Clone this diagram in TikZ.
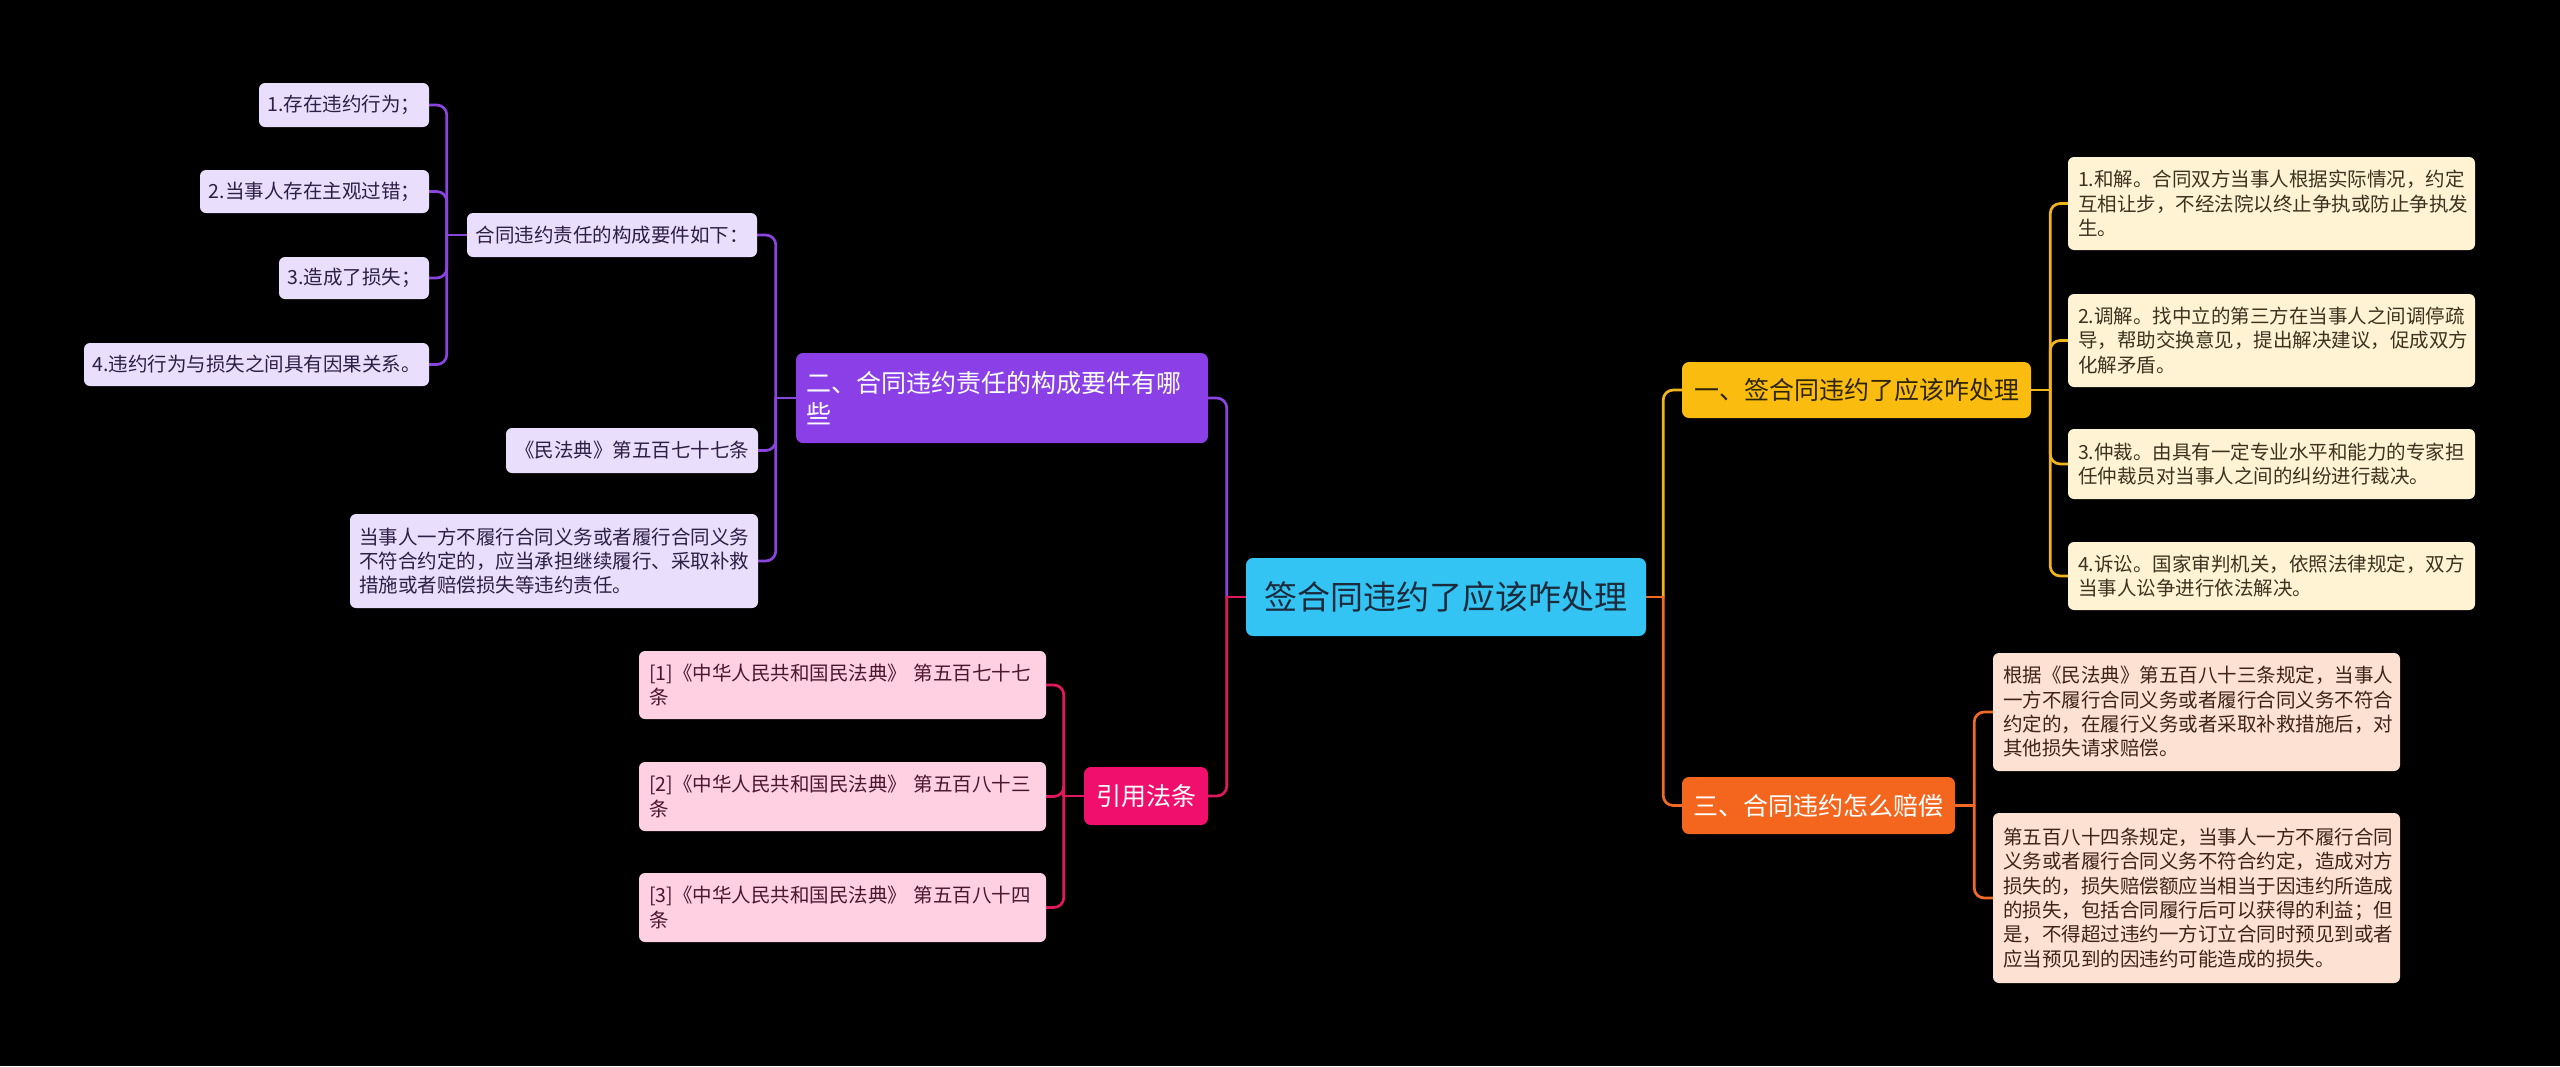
\documentclass[tikz,border=0pt]{standalone}
\usepackage{fontspec}
\newfontfamily\cjk{Noto Sans CJK SC}
\pgfdeclarelayer{back}
\pgfdeclarelayer{lines}
\pgfsetlayers{back,lines,main}
\definecolor{cblue}{HTML}{33C4F3}
\definecolor{cbtxt}{HTML}{1B2B3C}
\definecolor{cyel}{HTML}{FABD0F}
\definecolor{cyeltxt}{HTML}{2E2506}
\definecolor{corg}{HTML}{F4661E}
\definecolor{cpur}{HTML}{8A40E6}
\definecolor{cpink}{HTML}{F00F6C}
\definecolor{ccream}{HTML}{FFF3D3}
\definecolor{ccreamtxt}{HTML}{3B3320}
\definecolor{cpeach}{HTML}{FDE2D4}
\definecolor{cpeachtxt}{HTML}{3D2418}
\definecolor{clav}{HTML}{E9DEFB}
\definecolor{clavtxt}{HTML}{2D1F45}
\definecolor{clpink}{HTML}{FFD0E2}
\definecolor{clpinktxt}{HTML}{4A1630}
\definecolor{lyel}{HTML}{F2B41C}
\definecolor{lorg}{HTML}{F06A26}
\definecolor{lpur}{HTML}{8A45DE}
\definecolor{lpink}{HTML}{E0195F}
\tikzset{
  rootbox/.style={rounded corners=7pt, inner sep=0pt, fill=cblue, text=cbtxt,
    font=\cjk\fontsize{33}{40}\selectfont, minimum width=400, minimum height=78},
  lvbox/.style={rounded corners=7pt, inner sep=0pt, font=\cjk\fontsize{25}{31}\selectfont},
  smallbox/.style={rounded corners=6pt, inner sep=0pt, font=\cjk\fontsize{19.5}{24.3}\selectfont, align=left},
  multibox/.style={smallbox, inner xsep=10pt, inner ysep=0pt, text width=387},
  yelbox/.style={multibox, fill=ccream, text=ccreamtxt},
  orgbox/.style={multibox, fill=cpeach, text=cpeachtxt},
  lavbox/.style={smallbox, fill=clav, text=clavtxt},
  pinkbox/.style={multibox, fill=clpink, text=clpinktxt},
  conn/.style={line width=2.7pt, line cap=round, line join=round},
  elbow/.style={conn, rounded corners=10pt},
}
\begin{document}
\begin{tikzpicture}[x=1pt,y=-1pt]
\useasboundingbox (0,0) rectangle (2560,1066);
\begin{pgfonlayer}{back}
\fill[black] (0,0) rectangle (2560,1066);
\end{pgfonlayer}

% root
\node[rootbox] (C) at (1446,597) {签合同违约了应该咋处理};

% level 1
\node[lvbox, fill=cyel, text=cyeltxt, minimum width=349, minimum height=56] (A) at (1856.5,390) {一、签合同违约了应该咋处理};
\node[lvbox, fill=corg, text=white, minimum width=273, minimum height=57] (B) at (1818.5,805.5) {三、合同违约怎么赔偿};
\node[lvbox, fill=cpur, text=white, inner xsep=10pt, text width=392, align=left, minimum height=90] (D) at (1002,398) {二、合同违约责任的构成要件有哪\\些};
\node[lvbox, fill=cpink, text=white, minimum width=124, minimum height=58] (E) at (1146,796) {引用法条};

% yellow children
\node[yelbox, minimum height=93] (a1) at (2271.5,203.5) {1.和解。合同双方当事人根据实际情况，约定\\互相让步，不经法院以终止争执或防止争执发\\生。};
\node[yelbox, minimum height=93] (a2) at (2271.5,340.5) {2.调解。找中立的第三方在当事人之间调停疏\\导，帮助交换意见，提出解决建议，促成双方\\化解矛盾。};
\node[yelbox, minimum height=70] (a3) at (2271.5,464) {3.仲裁。由具有一定专业水平和能力的专家担\\任仲裁员对当事人之间的纠纷进行裁决。};
\node[yelbox, minimum height=68] (a4) at (2271.5,576) {4.诉讼。国家审判机关，依照法律规定，双方\\当事人讼争进行依法解决。};

% orange children
\node[orgbox, minimum height=118] (b1) at (2196.5,712) {根据《民法典》第五百八十三条规定，当事人\\一方不履行合同义务或者履行合同义务不符合\\约定的，在履行义务或者采取补救措施后，对\\其他损失请求赔偿。};
\node[orgbox, minimum height=170] (b2) at (2196.5,898) {第五百八十四条规定，当事人一方不履行合同\\义务或者履行合同义务不符合约定，造成对方\\损失的，损失赔偿额应当相当于因违约所造成\\的损失，包括合同履行后可以获得的利益；但\\是，不得超过违约一方订立合同时预见到或者\\应当预见到的因违约可能造成的损失。};

% purple children
\node[lavbox, minimum width=290, minimum height=44] (d1) at (612,235) {合同违约责任的构成要件如下：};
\node[lavbox, minimum width=252, minimum height=45] (d2) at (632,450.5) {《民法典》第五百七十七条};
\node[lavbox, inner xsep=9pt, text width=390, minimum height=94] (d3) at (554,561) {当事人一方不履行合同义务或者履行合同义务\\不符合约定的，应当承担继续履行、采取补救\\措施或者赔偿损失等违约责任。};

\node[lavbox, minimum width=170, minimum height=44] (l1) at (344,105) {1.存在违约行为；};
\node[lavbox, minimum width=229, minimum height=43] (l2) at (314.5,191.5) {2.当事人存在主观过错；};
\node[lavbox, minimum width=150, minimum height=42] (l3) at (354,278) {3.造成了损失；};
\node[lavbox, minimum width=345, minimum height=43] (l4) at (256.5,364.5) {4.违约行为与损失之间具有因果关系。};

% pink children
\node[pinkbox, minimum height=68] (e1) at (842.5,685) {[1]《中华人民共和国民法典》 第五百七十七\\条};
\node[pinkbox, minimum height=69] (e2) at (842.5,796.5) {[2]《中华人民共和国民法典》 第五百八十三\\条};
\node[pinkbox, minimum height=69] (e3) at (842.5,907.5) {[3]《中华人民共和国民法典》 第五百八十四\\条};

% junctions
\coordinate (jCL) at ([xshift=-19pt]C.west);
\coordinate (jCR) at ([xshift=17pt]C.east);
\coordinate (jA) at ([xshift=19pt]A.east);
\coordinate (jB) at ([xshift=19pt]B.east);
\coordinate (jD) at ([xshift=-20pt]D.west);
\coordinate (jd1) at ([xshift=-20pt]d1.west);
\coordinate (jE) at ([xshift=-20pt]E.west);

\begin{pgfonlayer}{lines}
% root connectors
\draw[conn, lpur] (C.west) -- (jCL);
\draw[elbow, lpur] (jCL) |- (D.east);
\draw[conn, lpink] (C.west) -- (jCL);
\draw[elbow, lpink] (jCL) |- (E.east);
\draw[conn, lyel] (C.east) -- (jCR);
\draw[elbow, lyel] (jCR) |- (A.west);
\draw[conn, lorg] (C.east) -- (jCR);
\draw[elbow, lorg] (jCR) |- (B.west);
% yellow
\draw[conn, lyel] (A.east) -- (jA);
\foreach \n in {a1,a2,a3,a4} {\draw[elbow, lyel] (jA) |- (\n.west);}
% orange
\draw[conn, lorg] (B.east) -- (jB);
\foreach \n in {b1,b2} {\draw[elbow, lorg] (jB) |- (\n.west);}
% purple
\draw[conn, lpur] (D.west) -- (jD);
\foreach \n in {d1,d2,d3} {\draw[elbow, lpur] (jD) |- (\n.east);}
\draw[conn, lpur] (d1.west) -- (jd1);
\foreach \n in {l1,l2,l3,l4} {\draw[elbow, lpur] (jd1) |- (\n.east);}
% pink
\draw[conn, lpink] (E.west) -- (jE);
\foreach \n in {e1,e2,e3} {\draw[elbow, lpink] (jE) |- (\n.east);}
\end{pgfonlayer}
\end{tikzpicture}
\end{document}
